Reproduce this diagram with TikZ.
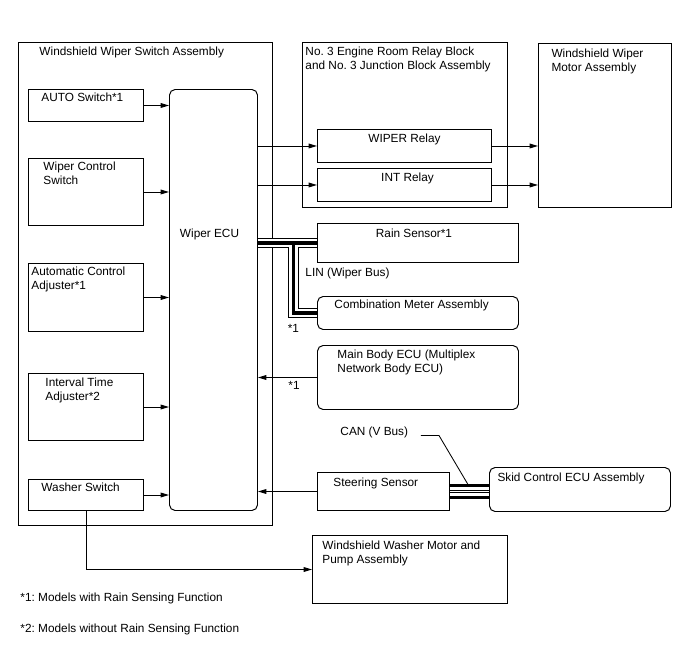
\documentclass[tikz,border=0pt]{standalone}
\usepackage{fontspec}
\setmainfont{Liberation Sans}
\frenchspacing
\usetikzlibrary{arrows.meta, calc}

\begin{document}
\begin{tikzpicture}[
    x=0.025cm, y=-0.025cm,
    font=\fontsize{8.4}{9.9}\selectfont,
    line width=0.7pt,
    box/.style 2 args={draw, line width=0.7pt, anchor=north west, inner sep=0pt,
      minimum width=#1*0.025cm, minimum height=#2*0.025cm},
    rbox/.style 2 args={box={#1}{#2}, rounded corners=4pt},
    txt/.style={anchor=base west, inner sep=0pt, align=left},
    ctxt/.style={anchor=base, inner sep=0pt},
    sig/.style={-{Triangle[length=6pt,width=3.4pt]}, line width=0.7pt},
    bus/.style={draw, line width=2.4pt,
      preaction={draw, line width=7.3pt},
      preaction={draw=white, line width=5.7pt}},
    canbus/.style={draw=white, line width=1.2pt,
      preaction={draw=black, line width=10.2pt},
      preaction={draw=white, line width=6.7pt},
      preaction={draw=black, line width=2.6pt}},
]
  \useasboundingbox (0,0) rectangle (688,658);

  % Switch assembly (left)
  \node[box={254}{483}] (swasm) at (18,42) {};
  \node[txt] (swasm-t) at ([shift={(21,13)}]swasm.north west) {Windshield Wiper Switch Assembly};

  \node[box={115}{32}] (autosw) at (28,89) {};
  \node[txt] (autosw-t) at ([shift={(13,12)}]autosw.north west) {AUTO Switch*1};
  \node[box={115}{67}] (ctrlsw) at (28,158) {};
  \node[txt] (ctrlsw-t) at ([shift={(15,26)}]ctrlsw.north west) {Wiper Control\\Switch};
  \node[box={115}{68}] (autoadj) at (28,263) {};
  \node[txt] (autoadj-t) at ([shift={(3,26)}]autoadj.north west) {Automatic Control\\Adjuster*1};
  \node[box={115}{67}] (intadj) at (28,373) {};
  \node[txt] (intadj-t) at ([shift={(17,27)}]intadj.north west) {Interval Time\\Adjuster*2};
  \node[box={115}{31}] (washsw) at (28,479) {};
  \node[txt] (washsw-t) at ([shift={(13,12)}]washsw.north west) {Washer Switch};

  \node[rbox={88}{421}] (ecu) at (169,89) {};
  \node[txt] (ecu-t) at ([shift={(10.5,148.3)}]ecu.north west) {Wiper ECU};

  % Relay block and wiper motor (top right)
  \node[box={205}{165}] (relblk) at (302,42) {};
  \node[txt] (relblk-t) at ([shift={(3,27)}]relblk.north west) {No. 3 Engine Room Relay Block\\and No. 3 Junction Block Assembly};
  \node[box={174}{33}] (wiprly) at (317,129) {};
  \node[ctxt] (wiprly-t) at ([shift={(0,13.7)}]wiprly.north) {WIPER Relay};
  \node[box={174}{33}] (intrly) at (317,168) {};
  \node[ctxt] (intrly-t) at ([shift={(3,13)}]intrly.north) {INT Relay};
  \node[box={133}{164}] (motor) at (538,43) {};
  \node[txt] (motor-t) at ([shift={(13,28)}]motor.north west) {Windshield Wiper\\Motor Assembly};

  % Sensors and ECUs (right)
  \node[box={201}{39}] (rain) at (317,223) {};
  \node[ctxt] (rain-t) at ([shift={(-4,14)}]rain.north) {Rain Sensor*1};
  \node[rbox={201}{33}] (meter) at (317,296) {};
  \node[txt] (meter-t) at ([shift={(17,12)}]meter.north west) {Combination Meter Assembly};
  \node[rbox={201}{64}] (mbecu) at (317,345) {};
  \node[txt] (mbecu-t) at ([shift={(20,27)}]mbecu.north west) {Main Body ECU (Multiplex\\Network Body ECU)};
  \node[box={132}{38}] (steer) at (317,472) {};
  \node[txt] (steer-t) at ([shift={(16,14)}]steer.north west) {Steering Sensor};
  \node[rbox={181}{44}] (skid) at (489,467) {};
  \node[txt] (skid-t) at ([shift={(8,14)}]skid.north west) {Skid Control ECU Assembly};
  \node[box={195}{68}] (washmtr) at (312,535) {};
  \node[txt] (washmtr-t) at ([shift={(10,28)}]washmtr.north west) {Windshield Washer Motor and\\Pump Assembly};

  % Signal lines
  \foreach \s in {autosw, ctrlsw, autoadj, intadj, washsw}
    \draw[sig] (\s.east) -- (\s.east -| ecu.west);
  \foreach \r in {wiprly, intrly} {
    \draw[sig] (\r.west -| ecu.east) -- (\r.west);
    \draw[sig] (\r.east) -- (\r.east -| motor.west);
  }
  \draw[sig] (mbecu.west) -- (mbecu.west -| ecu.east);
  \draw[sig] (steer.west) -- (steer.west -| ecu.east);
  \draw[sig] (washsw.south) |- (washmtr.west);

  % LIN bus
  \coordinate (lintap) at ($(rain.west)+(-23.5,0)$);
  \draw[bus] (rain.west -| ecu.east) -- (rain.west) (lintap) |- (meter.west);
  \node[txt] (lin-t) at ([shift={(-12,13.7)}]rain.south west) {LIN (Wiper Bus)};
  \node[txt] (lin-n) at ([shift={(-29.7,2.7)}]meter.south west) {*1};
  \node[txt] (mb-n) at ([shift={(-29,11.7)}]mbecu.west) {*1};

  % CAN bus
  \draw[canbus] (steer.east) -- (steer.east -| skid.west);
  \coordinate (canend) at ($(steer.east)+(18,-7)$);
  \coordinate (canknee) at ($(canend)+(-29,-49)$);
  \draw[line width=0.6pt] (canknee) ++(-18,0) -- (canknee) -- (canend);
  \node[txt] (can-t) at ([shift={(23,-36.5)}]steer.north west) {CAN (V Bus)};

  % Notes
  \node[txt] (note1) at (20,601) {*1: Models with Rain Sensing Function};
  \node[txt] (note2) at (20,632) {*2: Models without Rain Sensing Function};
\end{tikzpicture}
\end{document}
